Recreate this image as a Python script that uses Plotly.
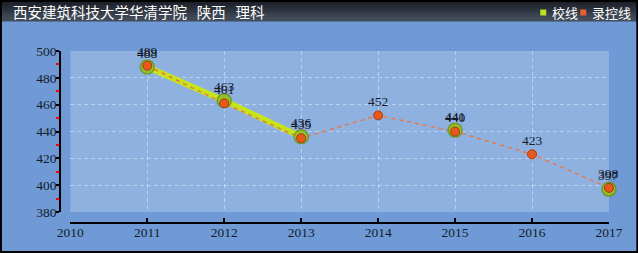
import plotly.graph_objects as go

title_text = "西安建筑科技大学华清学院 陕西 理科"
years = [2011, 2012, 2013, 2014, 2015, 2016, 2017]
school_name = "校线"
school_line = [488, 463, 436, None, 441, None, 397]
control_name = "录控线"
control_line = [489, 461, 435, 452, 440, 423, 398]
x_ticks = [2010, 2011, 2012, 2013, 2014, 2015, 2016, 2017]
y_ticks = [380, 400, 420, 440, 460, 480, 500]

W, H = 638, 253
L, R, T, B = 60, 29.3, 51, 30
PW = W - L - R
PH = H - T - B


def px_x(px):
    return (px - L) / PW


def px_y(py):
    return (H - B - py) / PH


SCHOOL_COLOR = "#c6e41c"
NUM_FONT = dict(family="Liberation Serif, DejaVu Serif, serif", size=13.5, color="#141c2c")

fig = go.Figure()

fig.add_trace(go.Scatter(
    x=years, y=school_line, mode="lines", connectgaps=False, cliponaxis=False,
    line=dict(color=SCHOOL_COLOR, width=6), hoverinfo="skip", showlegend=False))
fig.add_trace(go.Scatter(
    x=years, y=control_line, mode="lines", cliponaxis=False,
    line=dict(color="#e87846", width=1.5, dash="4px,4px"), hoverinfo="skip", showlegend=False))
fig.add_trace(go.Scatter(
    x=years, y=school_line, mode="markers", cliponaxis=False,
    marker=dict(size=14, color="rgba(150,192,28,0.92)",
                line=dict(color="rgba(95,140,20,0.7)", width=1.5)),
    hoverinfo="skip", showlegend=False))
fig.add_trace(go.Scatter(
    x=years, y=control_line, mode="markers", cliponaxis=False,
    marker=dict(size=9, color="#e8581a", line=dict(color="#a33c12", width=1)),
    hoverinfo="skip", showlegend=False))

annotations = []
for series in (school_line, control_line):
    for xv, yv in zip(years, series):
        if yv is None:
            continue
        annotations.append(dict(x=xv, y=yv, xref="x", yref="y", text=str(yv),
                                showarrow=False, yshift=14, font=NUM_FONT))

shapes = []
# title bar gradient
n = 11
top_c = (26, 30, 38)
bot_c = (66, 76, 90)
for i in range(n):
    f = i / (n - 1)
    c = tuple(int(top_c[k] + (bot_c[k] - top_c[k]) * f) for k in range(3))
    y0 = i * 21 / n
    y1 = (i + 1) * 21 / n + 0.5
    shapes.append(dict(type="rect", xref="paper", yref="paper",
                       x0=px_x(0), x1=px_x(W), y0=px_y(y1), y1=px_y(y0),
                       fillcolor="rgb(%d,%d,%d)" % c, line=dict(width=0), layer="below"))

# legend
leg_items = [(school_name, "#b8e21e", 540, 550), (control_name, "#e8602c", 580, 590)]
for name, col, sx, tx in leg_items:
    shapes.append(dict(type="rect", xref="paper", yref="paper",
                       x0=px_x(sx), x1=px_x(sx + 6), y0=px_y(15.5), y1=px_y(9.5),
                       fillcolor=col, line=dict(width=0)))
    annotations.append(dict(x=px_x(tx), y=px_y(12), xref="paper", yref="paper",
                            text=name, showarrow=False, xanchor="left", yanchor="middle",
                            font=dict(family="Noto Sans CJK SC", size=13, color="white")))

annotations.append(dict(x=px_x(11), y=px_y(11), xref="paper", yref="paper",
                        text=title_text.replace(" ", "\u00a0\u00a0\u00a0"),
                        showarrow=False, xanchor="left", yanchor="middle",
                        font=dict(family="Noto Sans CJK SC", size=14.5, color="white")))

# outer border
shapes.append(dict(type="rect", xref="paper", yref="paper",
                   x0=px_x(1), x1=px_x(637), y0=px_y(252), y1=px_y(1),
                   line=dict(color="black", width=2), fillcolor="rgba(0,0,0,0)"))

fig.update_layout(
    width=W, height=H,
    margin=dict(l=L, r=R, t=T, b=B, pad=0),
    paper_bgcolor="#6f9ad5",
    plot_bgcolor="#8fb1e0",
    showlegend=False,
    shapes=shapes,
    annotations=annotations,
    xaxis=dict(
        domain=[px_x(70.3), 1], range=[2010, 2017], anchor="free", position=0,
        tickmode="array", tickvals=x_ticks, ticktext=[str(v) for v in x_ticks],
        showline=True, linecolor="black", linewidth=1.5,
        ticks="inside", ticklen=4, tickcolor="black", tickwidth=1.5,
        ticklabelstandoff=-3,
        showgrid=True, gridcolor="rgba(225,235,250,0.55)", griddash="4px,3px", gridwidth=1,
        zeroline=False, tickfont=NUM_FONT, fixedrange=True,
    ),
    yaxis=dict(
        domain=[px_y(212), 1], range=[380, 500], anchor="free", position=0,
        tickmode="array", tickvals=y_ticks, ticktext=[str(v) for v in y_ticks],
        showline=True, linecolor="black", linewidth=1.5,
        ticks="outside", ticklen=3, tickcolor="black", tickwidth=1.5,
        ticklabelstandoff=-3,
        minor=dict(ticks="outside", ticklen=3, tickcolor="red", tickwidth=1.5,
                   tickvals=[390, 410, 430, 450, 470, 490], showgrid=False),
        showgrid=True, gridcolor="rgba(225,235,250,0.55)", griddash="4px,3px", gridwidth=1,
        zeroline=False, tickfont=NUM_FONT, fixedrange=True,
    ),
)

fig.write_html("out.html", config=dict(displayModeBar=False))
